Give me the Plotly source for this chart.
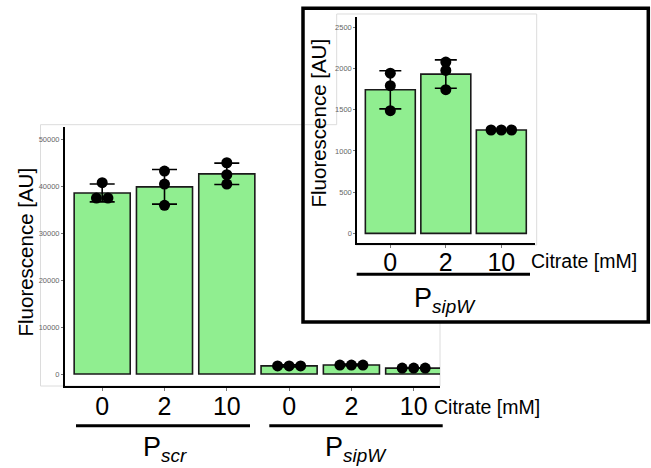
import numpy as np
import plotly.graph_objects as go

# ---------------- data ----------------
citrate_labels = ["0", "2", "10"]
promoter_labels = ["P<sub><i>scr</i></sub>", "P<sub><i>sipW</i></sub>"]

scr_0 = [40800, 37400, 37600]
scr_2 = [43260, 40490, 35960]
scr_10 = [45040, 42490, 40490]
sipw_0 = [1944, 1792, 1489]
sipw_2 = [2078, 1977, 1743]
sipw_10 = [1250, 1254, 1258]

main_ticks = [0, 10000, 20000, 30000, 40000, 50000]
inset_ticks = [0, 500, 1000, 1500, 2000, 2500]

y_title = "Fluorescence [AU]"
x_title = "Citrate [mM]"

main_groups = [scr_0, scr_2, scr_10, sipw_0, sipw_2, sipw_10]
inset_groups = [sipw_0, sipw_2, sipw_10]

W, H = 651, 468
FONT = "Liberation Sans, Arial, sans-serif"
GREEN = "#90EE90"
EDGE = "#1a1a1a"
PANEL = "#dcdcdc"


def X(px):
    return px / W


def Y(py):
    return 1 - py / H


def dot_positions(groups, spacing):
    allv = [v for g in groups for v in g]
    binwidth = (max(allv) - min(allv)) / 30.0
    xs, ys = [], []
    for i, vals in enumerate(groups):
        bins = []
        for v in sorted(vals):
            if bins and v - bins[-1][0] < binwidth:
                bins[-1].append(v)
            else:
                bins.append([v])
        for b in bins:
            c = (b[0] + b[-1]) / 2.0
            n = len(b)
            for k in range(n):
                xs.append(i + (k - (n - 1) / 2.0) * spacing)
                ys.append(c)
    return xs, ys


def stats(groups):
    means = [float(np.mean(g)) for g in groups]
    sds = [float(np.std(g, ddof=1)) for g in groups]
    return means, sds


fig = go.Figure()

# ---------------- main chart ----------------
m_means, m_sds = stats(main_groups)
fig.add_trace(go.Bar(
    x=list(range(len(main_groups))), y=m_means, width=0.9,
    marker=dict(color=GREEN, line=dict(color=EDGE, width=1.6)),
    error_y=dict(type="data", array=m_sds, visible=True, color="black",
                 thickness=1.6, width=12.5),
    xaxis="x", yaxis="y", hoverinfo="skip"))
mx, my = dot_positions(main_groups, 0.185)
fig.add_trace(go.Scatter(x=mx, y=my, mode="markers",
                         marker=dict(color="black", size=11, line=dict(width=0)),
                         xaxis="x", yaxis="y", hoverinfo="skip"))

# ---------------- inset chart ----------------
i_means, i_sds = stats(inset_groups)
fig.add_trace(go.Bar(
    x=list(range(len(inset_groups))), y=i_means, width=0.9,
    marker=dict(color=GREEN, line=dict(color=EDGE, width=1.6)),
    error_y=dict(type="data", array=i_sds, visible=True, color="black",
                 thickness=1.6, width=11),
    xaxis="x2", yaxis="y2", hoverinfo="skip"))
ix, iy = dot_positions(inset_groups, 0.185)
fig.add_trace(go.Scatter(x=ix, y=iy, mode="markers",
                         marker=dict(color="black", size=11, line=dict(width=0)),
                         xaxis="x2", yaxis="y2", hoverinfo="skip"))

xcommon = dict(showline=True, linecolor="black", linewidth=2, showgrid=False,
               zeroline=False, ticks="outside", ticklen=3, tickcolor="#777",
               tickwidth=1, tickfont=dict(family=FONT, size=25, color="black"),
               fixedrange=True)
ycommon = dict(showline=True, linecolor="black", linewidth=2, showgrid=False,
               zeroline=False, ticks="outside", ticklen=2, tickcolor="#777",
               tickwidth=1, tickfont=dict(family=FONT, size=7.5, color="#666"),
               fixedrange=True)

fig.update_layout(
    width=W, height=H, margin=dict(l=0, r=0, t=0, b=0),
    paper_bgcolor="white", plot_bgcolor="rgba(0,0,0,0)",
    showlegend=False, bargap=0, hovermode=False,
    xaxis=dict(domain=[X(65), X(440)], range=[-0.597, 5.422],
               tickvals=list(range(6)), ticktext=citrate_labels * 2,
               ticklabelstandoff=-6, anchor="y", **xcommon),
    yaxis=dict(domain=[Y(385.7), Y(127)], range=[-2495, 52665],
               tickvals=main_ticks, ticktext=[str(t) for t in main_ticks],
               anchor="x", **ycommon),
    xaxis2=dict(domain=[X(357.3), X(535)], range=[-0.595, 2.607],
                tickvals=list(range(3)), ticktext=citrate_labels,
                ticklabelstandoff=-7, anchor="y2", **xcommon),
    yaxis2=dict(domain=[Y(243.3), Y(16.7)], range=[-121, 2629],
                tickvals=inset_ticks, ticktext=[str(t) for t in inset_ticks],
                anchor="x2", **ycommon),
)


def pth(points):
    return "M " + " L ".join(f"{X(a):.5f},{Y(b):.5f}" for a, b in points)


shapes = [
    # main panel light border
    dict(type="rect", xref="paper", yref="paper", x0=X(40.5), x1=X(440),
         y0=Y(386), y1=Y(124.7), line=dict(color=PANEL, width=1),
         fillcolor="rgba(0,0,0,0)", layer="below"),
    # inset frame
    dict(type="rect", xref="paper", yref="paper", x0=X(303), x1=X(648.3),
         y0=Y(322), y1=Y(8.3), line=dict(color="black", width=3.5),
         fillcolor="white", layer="below"),
    # inset panel light border (partly hidden in the original)
    dict(type="path", xref="paper", yref="paper",
         path=pth([(305, 124.7), (336.7, 124.7), (336.7, 14), (536.7, 14),
                   (536.7, 245), (356, 245)]),
         line=dict(color=PANEL, width=1), layer="below"),
    # group underlines
    dict(type="line", xref="paper", yref="paper", x0=X(76), x1=X(250),
         y0=Y(425.7), y1=Y(425.7), line=dict(color="black", width=3)),
    dict(type="line", xref="paper", yref="paper", x0=X(269.3), x1=X(442.7),
         y0=Y(425.7), y1=Y(425.7), line=dict(color="black", width=3)),
    dict(type="line", xref="paper", yref="paper", x0=X(356.7), x1=X(530),
         y0=Y(274.3), y1=Y(274.3), line=dict(color="black", width=3)),
]

tf = dict(family=FONT, color="black")
annotations = [
    dict(text=y_title, x=X(25), y=Y(252.5), xref="paper", yref="paper",
         textangle=-90, showarrow=False, font=dict(size=20.5, **tf),
         xanchor="center", yanchor="middle"),
    dict(text=y_title, x=X(318), y=Y(123.5), xref="paper", yref="paper",
         textangle=-90, showarrow=False, font=dict(size=20.5, **tf),
         xanchor="center", yanchor="middle"),
    dict(text=x_title, x=X(432), y=Y(407), xref="paper", yref="paper",
         showarrow=False, font=dict(size=19.5, **tf),
         xanchor="left", yanchor="middle"),
    dict(text=x_title, x=X(528.5), y=Y(261), xref="paper", yref="paper",
         showarrow=False, font=dict(size=19.5, **tf),
         xanchor="left", yanchor="middle"),
    dict(text=promoter_labels[0], x=X(164.7), y=Y(449), xref="paper",
         yref="paper", showarrow=False, font=dict(size=27, **tf),
         xanchor="center", yanchor="middle"),
    dict(text=promoter_labels[1], x=X(356), y=Y(449), xref="paper",
         yref="paper", showarrow=False, font=dict(size=27, **tf),
         xanchor="center", yanchor="middle"),
    dict(text=promoter_labels[1], x=X(445), y=Y(300), xref="paper",
         yref="paper", showarrow=False, font=dict(size=27, **tf),
         xanchor="center", yanchor="middle"),
]

fig.update_layout(shapes=shapes, annotations=annotations)
fig.write_html("out.html",
               config={"displayModeBar": False, "staticPlot": True},
               post_script="document.body.style.margin='0';"
                           "document.body.style.overflow='hidden';")
